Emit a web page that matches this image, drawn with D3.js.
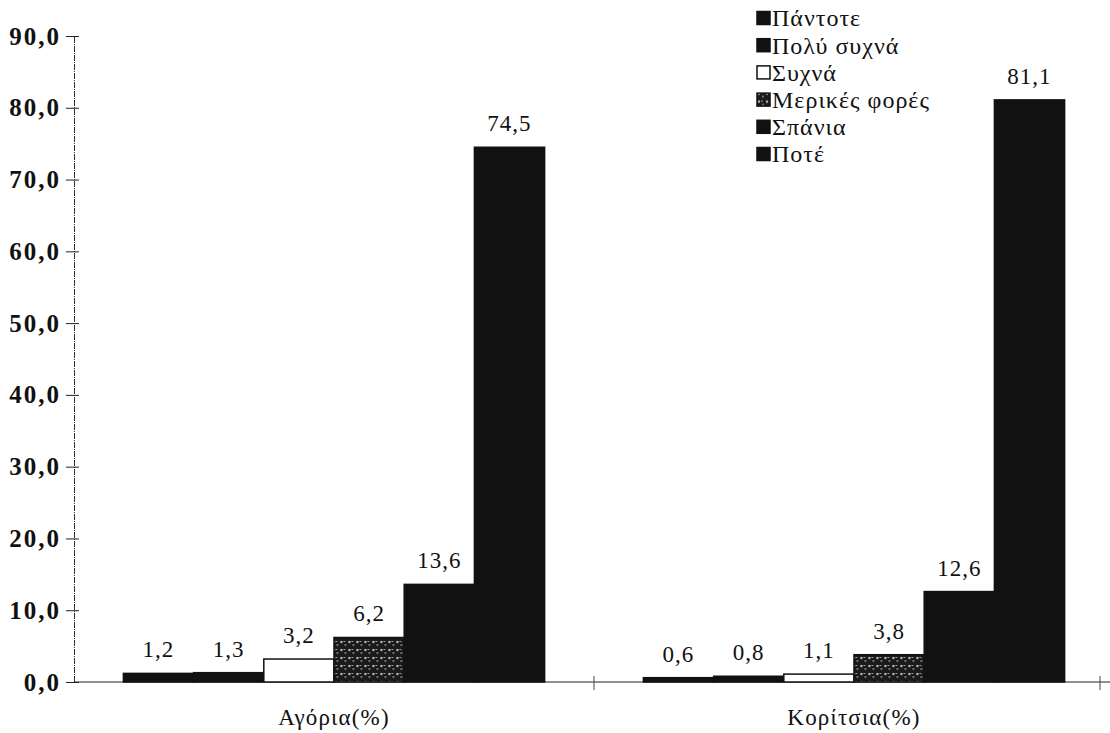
<!DOCTYPE html>
<html>
<head>
<meta charset="utf-8">
<script src="https://cdn.jsdelivr.net/npm/d3@7"></script>
<style>
  body { margin: 0; background: #fff; }
</style>
</head>
<body>
<div id="canvas"></div>
<script>
const width = 1110;
const height = 733;
const serif = '"Liberation Serif", serif';

// data
const groups = ["Αγόρια(%)", "Κορίτσια(%)"];
const answers = ["Πάντοτε", "Πολύ συχνά", "Συχνά", "Μερικές φορές", "Σπάνια", "Ποτέ"];
const boys = [1.2, 1.3, 3.2, 6.2, 13.6, 74.5];
const girls = [0.6, 0.8, 1.1, 3.8, 12.6, 81.1];
const yTicks = [0, 10, 20, 30, 40, 50, 60, 70, 80, 90];

const rows = groups.map((g, i) => ({
    group: g,
    values: answers.map((a, j) => ({ answer: a, value: (i === 0 ? boys : girls)[j] }))
}));

const gr = d3.formatLocale({ decimal: ",", thousands: ".", grouping: [3], currency: ["", "€"] });
const fmt = gr.format(".1f");

const svg = d3.select("#canvas")
    .append("svg")
    .attr("width", width)
    .attr("height", height);

// patterns for the scanned textures
const defs = svg.append("defs");
const pat = defs.append("pattern")
    .attr("id", "speck")
    .attr("width", 8).attr("height", 8)
    .attr("patternUnits", "userSpaceOnUse");
pat.append("rect").attr("width", 8).attr("height", 8).attr("fill", "#1a1a1a");
pat.append("circle").attr("cx", 2).attr("cy", 2).attr("r", 1.2).attr("fill", "#bbb");
pat.append("circle").attr("cx", 6).attr("cy", 5).attr("r", 1).attr("fill", "#888");
pat.append("rect").attr("x", 4).attr("y", 1).attr("width", 2).attr("height", 1).attr("fill", "#999");

const fills = {
    "Πάντοτε": "#111",
    "Πολύ συχνά": "#111",
    "Συχνά": "#fff",
    "Μερικές φορές": "url(#speck)",
    "Σπάνια": "#111",
    "Ποτέ": "#111"
};

const y = d3.scaleLinear().domain([0, 90]).range([682, 36]);
const x0 = d3.scaleBand().domain(groups).range([74, 1114])
    .paddingInner(0.19).paddingOuter(0.095);
const x1 = d3.scaleBand().domain(answers).range([0, x0.bandwidth()]);

// y axis
const yAxis = svg.append("g")
    .attr("transform", "translate(74,0)")
    .call(d3.axisLeft(y).tickValues(yTicks).tickFormat(fmt).tickSize(8).tickPadding(5));
yAxis.attr("font-family", null);
yAxis.select(".domain").attr("stroke", "#333").attr("stroke-dasharray", "6,1,1,1");
yAxis.selectAll(".tick line").attr("x1", 5).attr("stroke", "#222");
yAxis.selectAll(".tick text")
    .style("font-family", serif)
    .style("font-size", "25px")
    .style("font-weight", "bold")
    .style("letter-spacing", "2px")
    .attr("fill", "#111");

// x axis
const xAxis = svg.append("g")
    .attr("transform", "translate(0,682)")
    .call(d3.axisBottom(x0).tickSize(0).tickFormat(""));
xAxis.select(".domain").attr("stroke", "#222").attr("d", "M74,0H1110");
xAxis.selectAll(".tick").remove();

const dividers = [x0.step() + 74, 1100];
svg.selectAll(".divider")
    .data(dividers)
    .join("line")
    .attr("class", "divider")
    .attr("x1", d => d).attr("x2", d => d)
    .attr("y1", 676).attr("y2", 690)
    .attr("stroke", "#444")
    .attr("stroke-width", 1);

svg.selectAll(".glabel")
    .data(groups)
    .join("text")
    .attr("class", "glabel")
    .attr("x", d => x0(d) + x0.bandwidth() / 2)
    .attr("y", 725)
    .attr("text-anchor", "middle")
    .style("font-family", serif)
    .style("font-size", "23px")
    .style("letter-spacing", "1.2px")
    .attr("fill", "#111")
    .text(d => d);

// bars
const g = svg.selectAll(".grp")
    .data(rows)
    .join("g")
    .attr("class", "grp")
    .attr("transform", d => `translate(${x0(d.group)},0)`);

g.selectAll("rect")
    .data(d => d.values)
    .join("rect")
    .attr("x", d => x1(d.answer))
    .attr("y", d => y(d.value))
    .attr("width", x1.bandwidth())
    .attr("height", d => y(0) - y(d.value))
    .attr("fill", d => fills[d.answer])
    .attr("stroke", "#111")
    .attr("stroke-width", 1.5);

g.selectAll(".val")
    .data(d => d.values)
    .join("text")
    .attr("class", "val")
    .attr("x", d => x1(d.answer) + x1.bandwidth() / 2)
    .attr("y", d => y(d.value) - 16)
    .attr("text-anchor", "middle")
    .style("font-family", serif)
    .style("font-size", "23px")
    .style("letter-spacing", "1px")
    .attr("fill", "#111")
    .text(d => fmt(d.value));

// legend
const legend = svg.append("g").attr("transform", "translate(757,18)");
const li = legend.selectAll(".li")
    .data(answers)
    .join("g")
    .attr("class", "li")
    .attr("transform", (d, i) => `translate(0,${i * 27.2})`);
li.append("rect")
    .attr("x", 0).attr("y", -6.5)
    .attr("width", 13).attr("height", 13)
    .attr("fill", d => fills[d])
    .attr("stroke", "#111")
    .attr("stroke-width", 1.5);
li.append("text")
    .attr("x", 15)
    .attr("y", 0)
    .attr("dy", "0.35em")
    .style("font-family", serif)
    .style("font-size", "24px")
    .style("letter-spacing", "1px")
    .attr("fill", "#111")
    .text(d => d);
</script>
</body>
</html>
